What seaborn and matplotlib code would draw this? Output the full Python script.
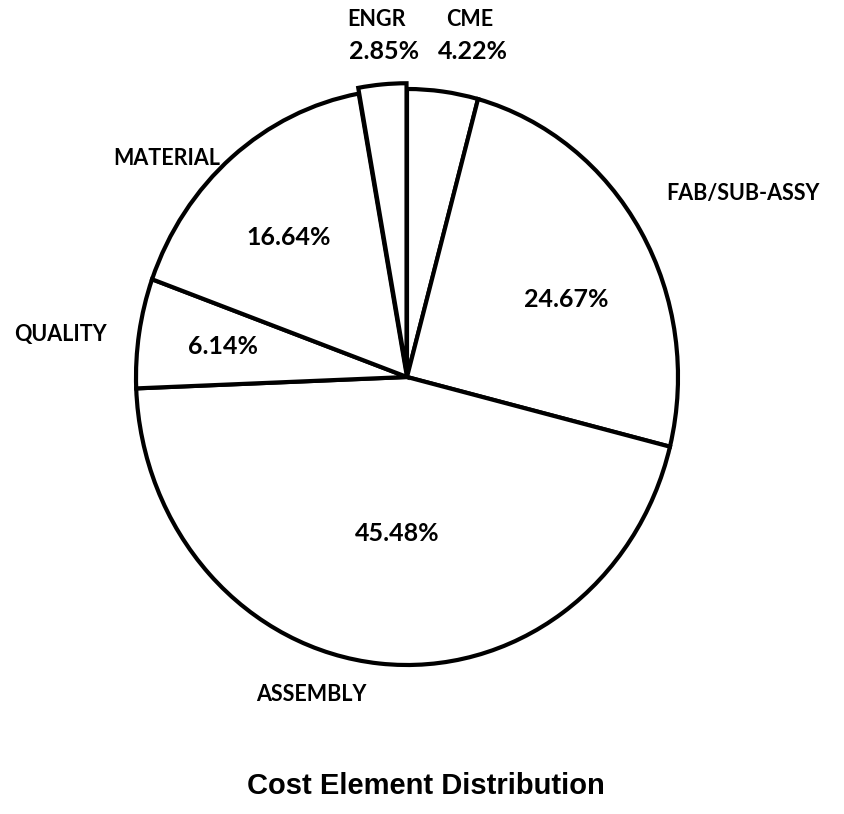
import numpy as np
import matplotlib
matplotlib.use("Agg")
import matplotlib.pyplot as plt
import seaborn as sns

# Cost elements, clockwise from 12 o'clock
categories = ["CME", "FAB/SUB-ASSY", "ASSEMBLY", "QUALITY", "MATERIAL", "ENGR"]
shares = [4.22, 24.67, 45.48, 6.14, 16.64, 2.85]
exploded = ["ENGR"]
title = "Cost Element Distribution"

sns.set_theme(style="white")
plt.rcParams["font.family"] = ["Lato", "DejaVu Sans"]

W, H = 845, 814
fig = plt.figure(figsize=(W / 100, H / 100), dpi=100)
ax = fig.add_axes([0, 0, 1, 1])

explode = [0.02 if c in exploded else 0.0 for c in categories]
wedges, _ = ax.pie(
    shares,
    startangle=90,
    counterclock=False,
    explode=explode,
    radius=1.0,
    colors=["white"] * len(shares),
    wedgeprops=dict(edgecolor="black", linewidth=3.0, joinstyle="miter"),
)

# Stretch the pie slightly taller than wide, centred in the canvas
cx_px, cy_px, rx_px, ry_px = 407, 377, 271, 288
ax.set_aspect("auto")
ax.set_xlim(-cx_px / rx_px, (W - cx_px) / rx_px)
ax.set_ylim(-(H - cy_px) / ry_px, cy_px / ry_px)
ax.axis("off")

# Text placement (in pie radius units) for names and percentages
name_pos = {
    "CME": (0.232, 1.240),
    "FAB/SUB-ASSY": (1.240, 0.638),
    "ASSEMBLY": (-0.354, -1.101),
    "QUALITY": (-1.280, 0.146),
    "MATERIAL": (-0.885, 0.760),
    "ENGR": (-0.114, 1.240),
}
pct_pos = {
    "CME": (0.244, 1.129),
    "FAB/SUB-ASSY": (0.587, 0.268),
    "ASSEMBLY": (-0.037, -0.544),
    "QUALITY": (-0.679, 0.105),
    "MATERIAL": (-0.435, 0.484),
    "ENGR": (-0.085, 1.129),
}

for cat, val in zip(categories, shares):
    x, y = name_pos[cat]
    ax.text(x, y, cat, ha="center", va="center", fontsize=15.5,
            fontweight="bold", color="black")
    x, y = pct_pos[cat]
    ax.text(x, y, f"{val:.2f}%", ha="center", va="center", fontsize=18,
            fontweight="bold", color="black")

fig.text(426 / W, 1 - 786 / H, title, ha="center", va="center",
         fontsize=21, fontweight="bold", color="black",
         family=["Liberation Sans", "DejaVu Sans"])

fig.savefig("out.png", dpi=100, facecolor="white")
